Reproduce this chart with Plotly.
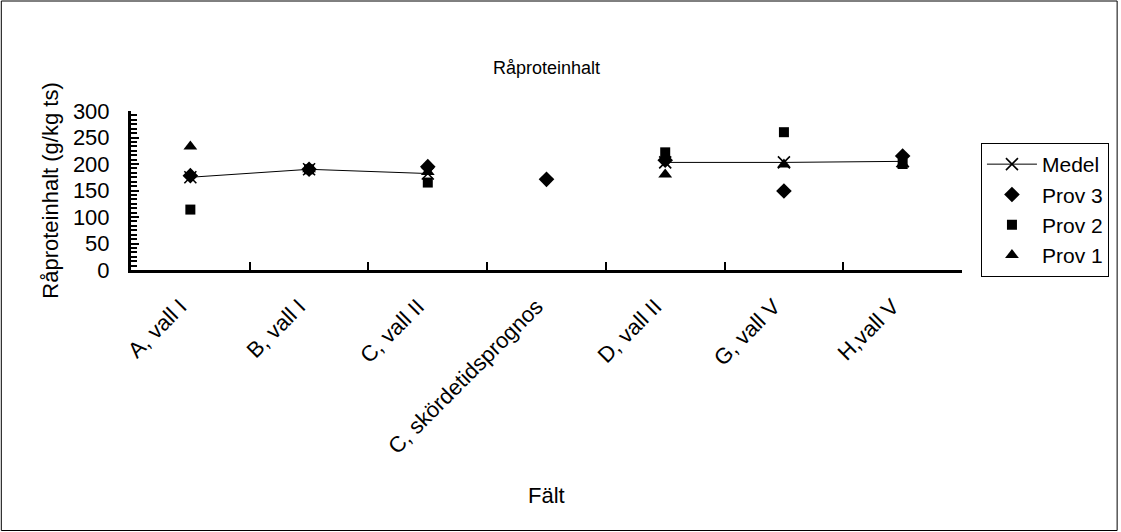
import plotly.graph_objects as go

categories = ["A, vall I", "B, vall I", "C, vall II", "C, skördetidsprognos",
              "D, vall II", "G, vall V", "H,vall V"]
medel = [175, 190, 182, None, 203, 203, 205]
prov3 = [178, 190, 195, 171, 207, 149, 215]
prov2 = [114, 190, 165, None, 222, 260, 200]
prov1 = [233, 190, 185, None, 180, 199, 200]

FONT = "Liberation Sans, Arial, sans-serif"
FS = 22

fig = go.Figure()
fig.add_trace(go.Scatter(x=categories, y=medel, name="Medel", mode="lines+markers",
                         line=dict(color="black", width=1), connectgaps=False,
                         marker=dict(symbol="x-thin-open", size=12,
                                     line=dict(color="black", width=1.6))))
fig.add_trace(go.Scatter(x=categories, y=prov3, name="Prov 3", mode="markers",
                         marker=dict(symbol="diamond", size=12, color="black")))
fig.add_trace(go.Scatter(x=categories, y=prov2, name="Prov 2", mode="markers",
                         marker=dict(symbol="square", size=10, color="black")))
fig.add_trace(go.Scatter(x=categories, y=prov1, name="Prov 1", mode="markers",
                         marker=dict(symbol="triangle-up", size=12, color="black")))

L, R, T, B = 131, 157, 111, 262
W, H = 1121, 532
pw = W - L - R
ph = H - T - B

def px_x(px):
    return (px - L) / pw

def px_y(py):
    return (H - B - py) / ph

fig.update_layout(
    width=W, height=H,
    margin=dict(l=L, r=R, t=T, b=B),
    paper_bgcolor="white", plot_bgcolor="white",
    font=dict(family=FONT, size=FS, color="black"),
    title=dict(text="Råproteinhalt", x=0.5, xref="paper", y=1 - 68 / H,
               yref="container", yanchor="middle", xanchor="center",
               font=dict(size=18, color="black", family=FONT)),
    xaxis=dict(type="category", range=[-0.5, 6.5], showline=True, linecolor="black",
               linewidth=3, ticks="inside", ticklen=8, tickwidth=2, tickcolor="black",
               tickson="boundaries", tickangle=-45, showgrid=False, zeroline=False,
               tickfont=dict(size=FS), ticklabelstandoff=12, ticklabelshift=-10),
    yaxis=dict(range=[0, 300], dtick=50, showline=True, linecolor="black", linewidth=3,
               ticks="inside", ticklen=8, tickwidth=2, tickcolor="black",
               showgrid=False, zeroline=False, tickfont=dict(size=FS),
               ticklabelstandoff=14,
               minor=dict(dtick=50 / 6, ticks="inside", ticklen=6, tickwidth=2,
                          tickcolor="black", showgrid=False)),
    legend=dict(x=px_x(983), y=px_y(143), xanchor="left", yanchor="top",
                bordercolor="black", borderwidth=1, bgcolor="white",
                font=dict(size=21, family=FONT), itemwidth=50),
    showlegend=True,
    annotations=[
        dict(text="Fält", x=0.5, y=px_y(495), xref="paper", yref="paper",
             showarrow=False, xanchor="center", yanchor="middle",
             font=dict(size=FS)),
        dict(text="Råproteinhalt (g/kg ts)", x=px_x(50), y=0.5, xref="paper",
             yref="paper", showarrow=False, textangle=-90, xanchor="center",
             yanchor="middle", font=dict(size=FS)),
    ],
    shapes=[dict(type="rect", xref="paper", yref="paper",
                 x0=px_x(1), x1=px_x(1119.5), y0=px_y(530.5), y1=px_y(1),
                 line=dict(color="black", width=1), fillcolor="rgba(0,0,0,0)",
                 layer="below")],
)

fig.write_html("out.html")
